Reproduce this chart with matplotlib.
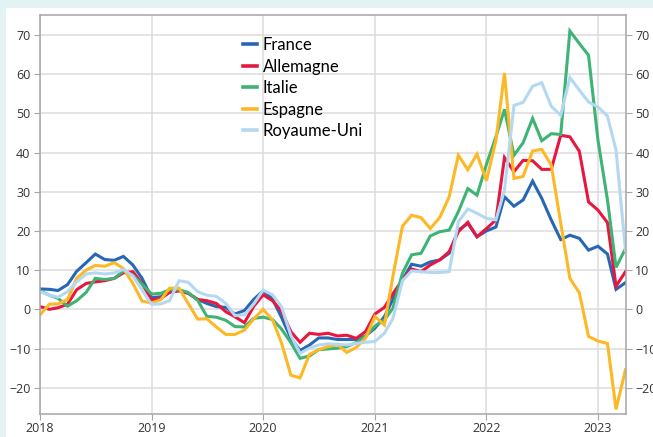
import pandas as pd
import matplotlib
matplotlib.use('Agg')
import matplotlib.pyplot as plt
import matplotlib.dates as mdates
from matplotlib.patches import Rectangle

months = pd.date_range('2018-01-01', '2023-04-01', freq='MS')

france = [5.2, 5.1, 4.8, 6.3, 9.7, 11.9, 14.1, 12.7, 12.5, 13.5, 11.3, 7.9,
          3.0, 3.2, 4.9, 4.9, 4.1, 2.5, 1.5, 0.7, 0.5, -1.2, -0.3, 2.5,
          4.7, 2.6, -2.0, -7.4, -10.5, -9.1, -7.3, -7.3, -7.7, -7.7, -7.7, -6.8,
          -4.8, -1.9, 2.6, 7.5, 11.5, 11.0, 12.1, 12.6, 14.3, 20.2, 21.9, 18.5,
          20.0, 21.0, 28.7, 26.3, 27.9, 32.7, 28.3, 22.8, 17.8, 18.9, 18.1, 15.1,
          16.1, 14.1, 5.1, 6.8]
allemagne = [0.7, 0.0, 0.4, 1.3, 5.0, 6.6, 7.0, 7.3, 7.9, 9.3, 9.6, 6.6,
             2.4, 2.8, 4.3, 4.7, 4.1, 2.5, 2.2, 1.5, -0.6, -1.9, -3.4, 0.7,
             3.7, 2.2, -0.4, -5.7, -8.4, -6.1, -6.4, -6.1, -6.8, -6.6, -7.4, -5.7,
             -1.2, 0.5, 4.0, 7.5, 10.3, 9.6, 11.3, 12.6, 14.7, 19.8, 22.2, 18.5,
             20.6, 22.8, 38.7, 35.1, 38.0, 37.9, 35.7, 35.7, 44.4, 44.0, 40.3, 27.4,
             25.3, 22.1, 5.9, 9.6]
italie = [4.7, 3.6, 2.8, 0.8, 2.2, 4.3, 7.9, 7.6, 7.9, 9.8, 8.7, 6.4,
          3.9, 4.1, 5.0, 5.0, 4.3, 2.3, -1.8, -2.0, -2.8, -4.4, -4.5, -2.3,
          -2.0, -2.6, -5.0, -8.5, -12.5, -11.9, -10.3, -10.1, -9.9, -9.5, -8.5, -6.8,
          -4.3, -2.7, 0.3, 9.2, 13.9, 14.3, 18.7, 19.8, 20.2, 24.9, 30.8, 29.1,
          37.0, 44.0, 51.0, 39.3, 42.5, 48.7, 43.0, 44.8, 44.6, 71.0, 67.8, 64.8,
          43.1, 27.9, 10.7, 15.5]
espagne = [-1.4, 1.3, 1.4, 2.5, 7.9, 10.0, 11.2, 11.0, 11.9, 10.4, 6.6, 2.1,
           1.6, 2.5, 5.4, 5.4, 1.5, -2.5, -2.4, -4.5, -6.4, -6.4, -5.3, -2.5,
           0.0, -2.7, -8.5, -16.8, -17.5, -11.5, -10.3, -9.5, -9.0, -11.0, -9.7, -7.4,
           -1.8, -4.0, 8.5, 21.2, 24.0, 23.4, 20.6, 23.4, 28.7, 39.3, 35.6, 39.6,
           32.8, 43.1, 60.3, 33.4, 33.9, 40.4, 40.8, 36.8, 22.0, 7.9, 4.2, -6.9,
           -8.1, -8.7, -25.5, -15.4]
royaume_uni = [4.5, 3.6, 3.1, 4.5, 7.0, 9.0, 9.3, 9.0, 9.3, 10.2, 8.5, 4.9,
               1.3, 1.4, 2.2, 7.3, 6.9, 4.5, 3.6, 3.3, 1.5, -1.6, -1.4, 1.3,
               4.9, 3.7, 0.7, -6.7, -11.2, -9.9, -9.1, -8.8, -8.9, -9.1, -8.7, -8.4,
               -8.2, -6.1, -2.3, 7.3, 9.8, 9.6, 9.4, 9.4, 9.6, 22.3, 25.6, 24.5,
               23.2, 22.8, 30.4, 52.0, 52.8, 56.9, 57.8, 51.8, 49.5, 59.1, 55.9, 52.9,
               51.6, 49.3, 40.6, 15.0]

names = ['France', 'Allemagne', 'Italie', 'Espagne', 'Royaume-Uni']
colors = ['#2767b4', '#e8173f', '#3db474', '#fdb825', '#b5d8f2']
series = [france, allemagne, italie, espagne, royaume_uni]
y_ticks = list(range(-20, 80, 10))

fig = plt.figure(figsize=(6.53, 4.37), dpi=100, facecolor='#e3f2f2')
# white panel over the tinted background, kept under the axes
fig.patches.append(Rectangle((6 / 653, 0), 1, 1 - 8 / 437, transform=fig.transFigure,
                             facecolor='white', edgecolor='none', zorder=-5))
ax = fig.add_axes([40 / 653, 1 - 414 / 437, 585.5 / 653, (414 - 15.3) / 437])

for vals, name, col in zip(series, names, colors):
    ax.plot(months, vals, color=col, linewidth=2.2, label=name, solid_joinstyle='miter')

ax.set_ylim(-26.7, 75)
ax.set_xlim(months[0], months[-1])
ax.set_yticks(y_ticks)
ax.xaxis.set_major_locator(mdates.YearLocator())
ax.xaxis.set_major_formatter(mdates.DateFormatter('%Y'))

ax.grid(True, color='#dcdcdc', linewidth=1.1)
ax.set_axisbelow(True)
for s in ax.spines.values():
    s.set_color('#a6a6a6')
    s.set_linewidth(1.1)

ax.tick_params(axis='y', left=True, right=True, labelleft=True, labelright=True,
               length=4, color='#a6a6a6', labelcolor='#333333', pad=3, labelsize=9)
ax.tick_params(axis='x', length=4, color='#a6a6a6', labelcolor='#333333', pad=2, labelsize=9)
for lab in ax.get_xticklabels() + ax.yaxis.get_ticklabels():
    lab.set_fontfamily('Open Sans')
for t in ax.yaxis.get_major_ticks():
    t.label2.set_fontfamily('Open Sans')

leg = ax.legend(loc='upper left', bbox_to_anchor=(0.335, 0.962), frameon=False,
                handlelength=0.85, handletextpad=0.35, labelspacing=0.33,
                borderaxespad=0, prop={'family': 'Lato', 'size': 12})
for h in leg.get_lines():
    h.set_linewidth(2.6)

fig.savefig('out.png', dpi=100, facecolor=fig.get_facecolor())
